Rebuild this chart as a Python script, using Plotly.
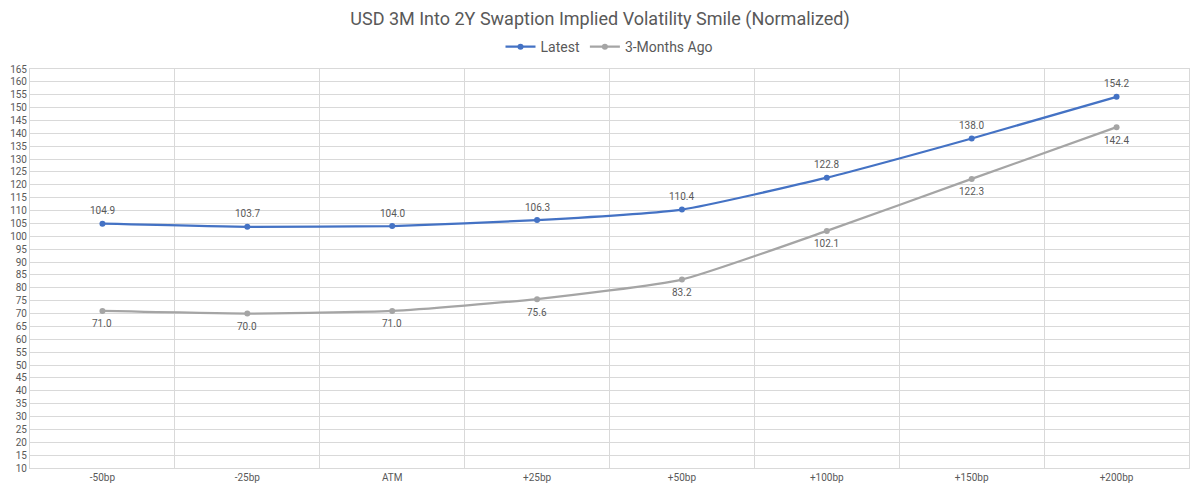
import plotly.graph_objects as go

categories = ["-50bp", "-25bp", "ATM", "+25bp", "+50bp", "+100bp", "+150bp", "+200bp"]
latest = [104.9, 103.7, 104.0, 106.3, 110.4, 122.8, 138.0, 154.2]
three_months_ago = [71.0, 70.0, 71.0, 75.6, 83.2, 102.1, 122.3, 142.4]
y_ticks = list(range(10, 166, 5))

FONT = "Roboto"
TXT = "#595959"
GRID = "#D9D9D9"

fig = go.Figure()
fig.add_trace(go.Scatter(
    x=categories, y=latest, name="Latest", mode="lines+markers",
    line=dict(color="#4472C4", width=2.25, shape="spline", smoothing=0.5),
    marker=dict(size=6, color="#4472C4"),
))
fig.add_trace(go.Scatter(
    x=categories, y=three_months_ago, name="3-Months Ago", mode="lines+markers",
    line=dict(color="#A5A5A5", width=2.25, shape="spline", smoothing=0.5),
    marker=dict(size=6, color="#A5A5A5"),
))

for c, v in zip(categories, latest):
    fig.add_annotation(x=c, y=v, text=f"{v:.1f}", showarrow=False, yshift=13,
                       font=dict(family=FONT, size=10, color=TXT))
for c, v in zip(categories, three_months_ago):
    fig.add_annotation(x=c, y=v, text=f"{v:.1f}", showarrow=False, yshift=-13,
                       font=dict(family=FONT, size=10, color=TXT))

fig.update_layout(
    width=1200, height=493,
    margin=dict(l=28, r=10, t=69, b=24),
    paper_bgcolor="white", plot_bgcolor="white",
    font=dict(family=FONT, color=TXT),
    title=dict(text="USD 3M Into 2Y Swaption Implied Volatility Smile (Normalized)",
               x=0.5, xanchor="center", y=0.963, yanchor="middle",
               font=dict(family=FONT, size=18, color=TXT)),
    legend=dict(orientation="h", x=0.5, xanchor="center", y=1.055, yanchor="middle",
                font=dict(family=FONT, size=14, color=TXT), itemwidth=30),
    showlegend=True,
)
fig.update_xaxes(
    type="category", range=[-0.5, 7.5], tickson="boundaries",
    showgrid=True, gridcolor=GRID, gridwidth=1, ticks="",
    showline=True, linecolor=GRID, mirror=True,
    tickfont=dict(family=FONT, size=10, color=TXT),
)
fig.update_yaxes(
    range=[10, 165], tickvals=y_ticks, showgrid=True, gridcolor=GRID, gridwidth=1,
    showline=True, linecolor=GRID, mirror=True, zeroline=False, ticks="",
    tickfont=dict(family=FONT, size=10, color=TXT),
)

fig.write_html("out.html")
